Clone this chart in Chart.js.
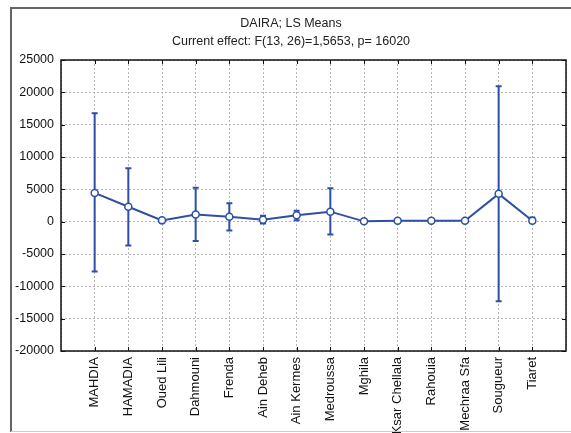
<!DOCTYPE html>
<html>
<head>
<meta charset="utf-8">
<script src="https://cdn.jsdelivr.net/npm/chart.js@4.4.0/dist/chart.umd.min.js"></script>
<style>
  html, body { margin: 0; padding: 0; background: #fff; }
  #wrap { width: 571px; height: 433px; }
</style>
</head>
<body>
<div id="wrap"><canvas id="c" width="571" height="433"></canvas></div>
<script>
// DAIRA - LS Means avec intervalles
const dairas = ['MAHDIA', 'HAMADIA', 'Oued Lili', 'Dahmouni', 'Frenda', 'Ain Deheb', 'Ain Kermes',
  'Medroussa', 'Mghila', 'Ksar Chellala', 'Rahouia', 'Mechraa Sfa', 'Sougueur', 'Tiaret'];
const lsMeans = [4450, 2300, 200, 1100, 750, 300, 1000, 1550, 50, 150, 150, 150, 4300, 150];
const upperCI = [16750, 8250, 200, 5250, 2850, 900, 1700, 5150, 50, 150, 150, 150, 20950, 650];
const lowerCI = [-7700, -3700, 200, -3000, -1350, -280, 200, -2000, 50, 150, 150, 150, -12300, -150];
const yTicks = [-20000, -15000, -10000, -5000, 0, 5000, 10000, 15000, 20000, 25000];

const titleLines = ['DAIRA; LS Means', 'Current effect: F(13, 26)=1,5653, p= 16020'];

const blue = '#2d4fa6';
const fontFamily = '"Liberation Sans", Arial, sans-serif';

const points = lsMeans.map((v, i) => ({x: i + 1, y: v}));

// barres d'erreur + cadre + titre
const decorPlugin = {
  id: 'decor',
  beforeDatasetsDraw(chart) {
    const {ctx, scales: {x, y}} = chart;
    ctx.save();
    ctx.strokeStyle = blue;
    ctx.lineWidth = 2;
    for (let i = 0; i < lsMeans.length; i++) {
      if (upperCI[i] - lowerCI[i] < 1) continue;
      const px = x.getPixelForValue(i + 1);
      const top = y.getPixelForValue(upperCI[i]);
      const bot = y.getPixelForValue(lowerCI[i]);
      ctx.beginPath();
      ctx.moveTo(px, top); ctx.lineTo(px, bot);
      ctx.moveTo(px - 3, top); ctx.lineTo(px + 3, top);
      ctx.moveTo(px - 3, bot); ctx.lineTo(px + 3, bot);
      ctx.stroke();
    }
    ctx.restore();
  },
  afterDraw(chart) {
    const {ctx, chartArea: a, scales: {x, y}} = chart;
    ctx.save();
    // bordure du graphique
    ctx.strokeStyle = '#111';
    ctx.lineWidth = 1.5;
    ctx.strokeRect(a.left, a.top, a.right - a.left, a.bottom - a.top);
    // petits traits vers l'intérieur
    ctx.lineWidth = 1;
    ctx.beginPath();
    for (let i = 1; i <= dairas.length; i++) {
      const px = Math.round(x.getPixelForValue(i)) + 0.5;
      ctx.moveTo(px, a.top); ctx.lineTo(px, a.top + 4);
      ctx.moveTo(px, a.bottom); ctx.lineTo(px, a.bottom - 4);
    }
    for (const t of yTicks) {
      const py = Math.round(y.getPixelForValue(t)) + 0.5;
      ctx.moveTo(a.left, py); ctx.lineTo(a.left + 4, py);
      ctx.moveTo(a.right, py); ctx.lineTo(a.right - 4, py);
    }
    ctx.stroke();
    // cadre extérieur
    ctx.strokeStyle = '#666';
    ctx.lineWidth = 2;
    ctx.beginPath();
    ctx.moveTo(11, 432); ctx.lineTo(11, 8); ctx.lineTo(571, 8);
    ctx.stroke();
    ctx.strokeStyle = '#ccc';
    ctx.lineWidth = 1;
    ctx.beginPath();
    ctx.moveTo(11, 431.5); ctx.lineTo(571, 431.5);
    ctx.stroke();
    // titre
    ctx.fillStyle = '#222';
    ctx.font = '12.5px ' + fontFamily;
    ctx.textAlign = 'center';
    ctx.textBaseline = 'alphabetic';
    ctx.fillText(titleLines[0], 291, 26.5);
    ctx.fillText(titleLines[1], 291, 44.5);
    ctx.restore();
  }
};

new Chart(document.getElementById('c'), {
  type: 'line',
  data: {
    datasets: [{
      data: points,
      borderColor: blue,
      borderWidth: 2,
      tension: 0,
      pointRadius: 3.5,
      pointHoverRadius: 3.5,
      pointBackgroundColor: '#fff',
      pointBorderColor: blue,
      pointBorderWidth: 1.5
    }]
  },
  options: {
    responsive: false,
    animation: false,
    events: [],
    layout: {padding: {left: 0, right: 2, top: 60, bottom: 0}},
    plugins: {legend: {display: false}, tooltip: {enabled: false}, title: {display: false}},
    scales: {
      x: {
        type: 'linear',
        min: 0,
        max: 15,
        afterBuildTicks(scale) {
          scale.ticks = [];
          for (let i = 0; i <= 15; i++) scale.ticks.push({value: i});
        },
        afterFit(scale) {
          scale.height = 82;
          scale.paddingLeft = 0;
          scale.paddingRight = 0;
        },
        grid: {color: '#b5b5b5', drawTicks: false, lineWidth: 1},
        border: {display: false, dash: [2, 2]},
        ticks: {
          autoSkip: false,
          minRotation: 90,
          maxRotation: 90,
          padding: 6,
          color: '#111',
          font: {family: fontFamily, size: 13},
          callback: (v) => dairas[v - 1] || ''
        }
      },
      y: {
        min: -20000,
        max: 25000,
        afterBuildTicks(scale) { scale.ticks = yTicks.map(v => ({value: v})); },
        afterFit(scale) {
          scale.width = 61;
          scale.paddingTop = 0;
          scale.paddingBottom = 0;
        },
        grid: {color: '#b5b5b5', drawTicks: false, lineWidth: 1},
        border: {display: false, dash: [2, 2]},
        ticks: {
          padding: 7,
          color: '#111',
          font: {family: fontFamily, size: 12.5},
          callback: (v) => String(v)
        }
      }
    }
  },
  plugins: [decorPlugin]
});
</script>
</body>
</html>
